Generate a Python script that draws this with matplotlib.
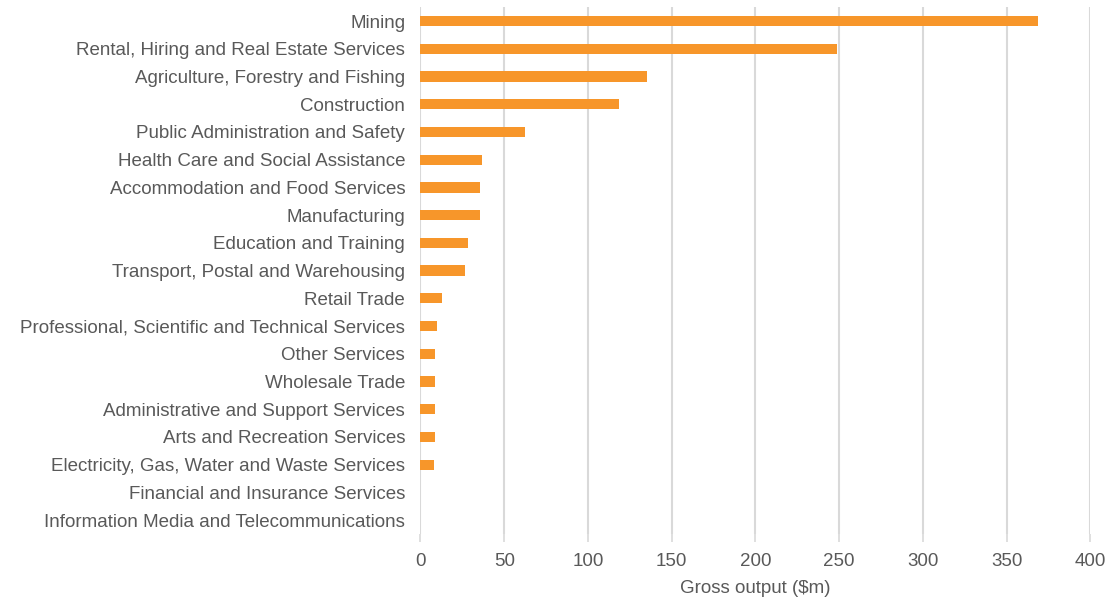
import matplotlib
matplotlib.use("Agg")
import matplotlib.pyplot as plt

categories = [
    "Mining",
    "Rental, Hiring and Real Estate Services",
    "Agriculture, Forestry and Fishing",
    "Construction",
    "Public Administration and Safety",
    "Health Care and Social Assistance",
    "Accommodation and Food Services",
    "Manufacturing",
    "Education and Training",
    "Transport, Postal and Warehousing",
    "Retail Trade",
    "Professional, Scientific and Technical Services",
    "Other Services",
    "Wholesale Trade",
    "Administrative and Support Services",
    "Arts and Recreation Services",
    "Electricity, Gas, Water and Waste Services",
    "Financial and Insurance Services",
    "Information Media and Telecommunications",
]
values = [369.0, 249.0, 135.2, 118.5, 62.7, 37.0, 35.4, 35.5, 28.4, 26.4,
          13.0, 10.0, 8.8, 8.8, 8.4, 8.4, 8.0, 0.0, 0.0]
xticks = [0, 50, 100, 150, 200, 250, 300, 350, 400]

plt.rcParams['font.family'] = ['Liberation Sans', 'DejaVu Sans']
text_color = "#595959"
fs = 13.5

fig = plt.figure(figsize=(11.08, 6.0), dpi=100)
ax = fig.add_axes([0.3795, 0.11, 0.6045, 0.878])

y = list(range(len(categories)))
ax.barh(y, values, height=0.37, color="#F7962A", zorder=3)
ax.set_ylim(len(categories) - 0.5, -0.5)
ax.set_xlim(0, 400)
ax.set_yticks(y)
ax.set_yticklabels(categories, fontsize=fs, color=text_color)
ax.set_xticks(xticks)
ax.set_xticklabels([str(t) for t in xticks], fontsize=fs, color=text_color)
ax.tick_params(axis='y', length=0, pad=11)
ax.tick_params(axis='x', length=6, width=1.2, color="#D9D9D9", pad=8)
ax.xaxis.grid(True, color="#D9D9D9", linewidth=1.5, zorder=0)
for s in ax.spines.values():
    s.set_visible(False)
ax.set_xlabel("Gross output ($m)", fontsize=fs, color=text_color, labelpad=7)

fig.savefig("out.png", dpi=100)
